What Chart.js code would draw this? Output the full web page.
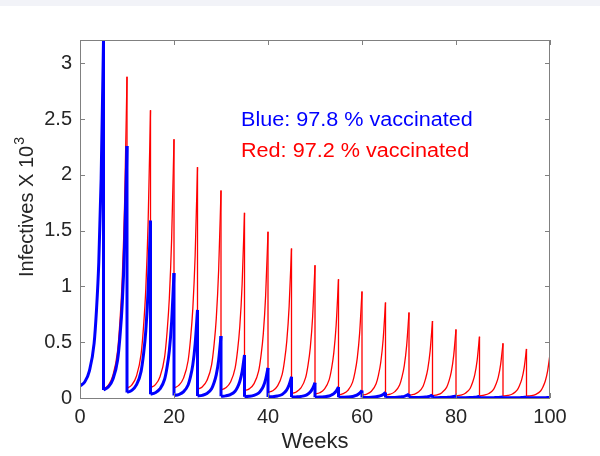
<!DOCTYPE html>
<html>
<head>
<meta charset="utf-8">
<script src="https://cdn.jsdelivr.net/npm/chart.js@4/dist/chart.umd.min.js"></script>
<style>
  html, body { margin: 0; padding: 0; background: #fff; }
  #wrap { width: 600px; height: 456px; }
</style>
</head>
<body>
<div id="wrap"><canvas id="infChart" width="600" height="456"></canvas></div>
<script>
// Data (infectives in thousands)
// every period is 5 weeks long; values sit at these weeks inside a period
const phaseWeeks = [0, 1, 2, 3, 3.5, 4, 4.5, 5];
const periodStart = [0, 5, 10, 15, 20, 25, 30, 35, 40, 45, 50, 55, 60, 65, 70, 75, 80, 85, 90, 95];

// Red: 97.2 % vaccinated
const redRise = [
  [0.108, 0.144, 0.243, 0.490, 0.784, 1.219, 1.969, 3.21],
  [0.080, 0.113, 0.202, 0.424, 0.690, 1.082, 1.760, 2.88],
  [0.087, 0.116, 0.195, 0.394, 0.630, 0.980, 1.583, 2.58],
  [0.092, 0.118, 0.189, 0.366, 0.578, 0.890, 1.429, 2.32],
  [0.090, 0.113, 0.176, 0.334, 0.522, 0.799, 1.278, 2.07],
  [0.078, 0.099, 0.156, 0.297, 0.467, 0.716, 1.147, 1.86],
  [0.072, 0.091, 0.141, 0.267, 0.418, 0.641, 1.025, 1.66],
  [0.065, 0.082, 0.127, 0.240, 0.376, 0.575, 0.920, 1.49],
  [0.050, 0.065, 0.106, 0.209, 0.331, 0.512, 0.824, 1.34],
  [0.040, 0.054, 0.090, 0.182, 0.291, 0.452, 0.730, 1.19],
  [0.035, 0.047, 0.080, 0.162, 0.260, 0.404, 0.653, 1.065],
  [0.028, 0.039, 0.068, 0.142, 0.230, 0.360, 0.584, 0.955],
  [0.025, 0.035, 0.061, 0.127, 0.206, 0.323, 0.524, 0.857],
  [0.025, 0.034, 0.057, 0.116, 0.187, 0.291, 0.470, 0.767],
  [0.024, 0.032, 0.053, 0.106, 0.169, 0.262, 0.424, 0.690],
  [0.022, 0.029, 0.048, 0.095, 0.151, 0.234, 0.378, 0.615],
  [0.020, 0.026, 0.043, 0.085, 0.136, 0.210, 0.338, 0.550],
  [0.020, 0.026, 0.040, 0.078, 0.123, 0.188, 0.302, 0.490],
  [0.018, 0.023, 0.036, 0.070, 0.110, 0.169, 0.271, 0.440],
  [0.017, 0.021, 0.033, 0.063, 0.099, 0.152, 0.243, 0.394]
];
const redEnd = 0.015;

// Blue: 97.8 % vaccinated
const blueRise = [
  [0.108, 0.144, 0.243, 0.490, 0.784, 1.219, 1.969, 3.21],
  [0.072, 0.098, 0.167, 0.341, 0.549, 0.855, 1.385, 2.26],
  [0.050, 0.068, 0.117, 0.239, 0.386, 0.601, 0.974, 1.59],
  [0.034, 0.047, 0.081, 0.168, 0.271, 0.423, 0.686, 1.12],
  [0.022, 0.031, 0.055, 0.117, 0.189, 0.297, 0.483, 0.79],
  [0.018, 0.024, 0.041, 0.084, 0.135, 0.210, 0.340, 0.555],
  [0.015, 0.019, 0.031, 0.061, 0.096, 0.148, 0.237, 0.385],
  [0.012, 0.015, 0.023, 0.044, 0.068, 0.104, 0.167, 0.27],
  [0.010, 0.012, 0.018, 0.032, 0.049, 0.074, 0.118, 0.19],
  [0.008, 0.010, 0.014, 0.024, 0.036, 0.054, 0.085, 0.137],
  [0.007, 0.008, 0.011, 0.018, 0.027, 0.040, 0.062, 0.098],
  [0.006, 0.007, 0.009, 0.014, 0.020, 0.028, 0.043, 0.068],
  [0.005, 0.005, 0.007, 0.011, 0.015, 0.021, 0.032, 0.050],
  [0.004, 0.004, 0.005, 0.008, 0.011, 0.015, 0.023, 0.036],
  [0.004, 0.004, 0.005, 0.007, 0.009, 0.012, 0.017, 0.026],
  [0.003, 0.003, 0.004, 0.005, 0.007, 0.009, 0.013, 0.019],
  [0.003, 0.003, 0.003, 0.004, 0.005, 0.007, 0.010, 0.014],
  [0.002, 0.002, 0.002, 0.003, 0.004, 0.005, 0.007, 0.010],
  [0.002, 0.002, 0.002, 0.003, 0.003, 0.004, 0.006, 0.008],
  [0.002, 0.002, 0.002, 0.002, 0.003, 0.003, 0.004, 0.006]
];
const blueEnd = 0.002;

const xTicks = [0, 20, 40, 60, 80, 100];
const yMax = 3.21;
const textColor = '#262626';
const fontFamily = '"Liberation Sans", Arial, Helvetica, sans-serif';

// growth parts of each period, split by a gap so each one is its own curve
function risePoints(rows) {
  const pts = [];
  rows.forEach((row, k) => {
    row.forEach((v, j) => pts.push({ x: periodStart[k] + phaseWeeks[j], y: v }));
    pts.push({ x: periodStart[k] + 5, y: null });
  });
  return pts;
}

// the sudden drops at the end of every period
function dropPoints(rows, endValue) {
  const pts = [];
  rows.forEach((row, k) => {
    const x = periodStart[k] + 5;
    const after = k + 1 < rows.length ? rows[k + 1][0] : endValue;
    pts.push({ x: x, y: row[row.length - 1] });
    pts.push({ x: x, y: after });
    pts.push({ x: x, y: null });
  });
  return pts;
}

// frame, inward ticks, labels and notes
const decorPlugin = {
  id: 'decor',
  beforeDraw(chart) {
    const ctx = chart.ctx;
    ctx.save();
    ctx.fillStyle = '#f2f3f8';
    ctx.fillRect(0, 0, chart.width, 6);
    ctx.restore();
  },
  afterDatasetsDraw(chart) {
    const { ctx, chartArea: a, scales } = chart;
    ctx.save();
    ctx.strokeStyle = '#808080';
    ctx.lineWidth = 1;
    ctx.strokeRect(a.left + 0.5, a.top + 0.5, a.right - a.left - 1, a.bottom - a.top);
    ctx.beginPath();
    scales.x.ticks.forEach(t => {
      const px = Math.round(scales.x.getPixelForValue(t.value)) + 0.5;
      ctx.moveTo(px, a.bottom); ctx.lineTo(px, a.bottom - 5);
      ctx.moveTo(px, a.top); ctx.lineTo(px, a.top + 5);
    });
    scales.y.ticks.forEach(t => {
      const py = Math.round(scales.y.getPixelForValue(t.value)) + 0.5;
      ctx.moveTo(a.left, py); ctx.lineTo(a.left + 5, py);
      ctx.moveTo(a.right, py); ctx.lineTo(a.right - 5, py);
    });
    ctx.stroke();
    ctx.restore();
  },
  afterDraw(chart) {
    const ctx = chart.ctx;
    ctx.save();
    // y axis title with superscript
    ctx.fillStyle = textColor;
    ctx.translate(33, 277);
    ctx.rotate(-Math.PI / 2);
    ctx.textBaseline = 'alphabetic';
    ctx.textAlign = 'left';
    ctx.font = '20px ' + fontFamily;
    const main = 'Infectives X 10';
    ctx.fillText(main, 0, 0);
    const w = ctx.measureText(main).width;
    ctx.font = '14px ' + fontFamily;
    ctx.fillText('3', w + 1, -9);
    ctx.restore();

    // notes
    ctx.save();
    ctx.font = '20px ' + fontFamily;
    ctx.textBaseline = 'alphabetic';
    ctx.textAlign = 'left';
    ctx.translate(241, 0);
    ctx.scale(1.08, 1);
    ctx.fillStyle = '#0000ff';
    ctx.fillText('Blue: 97.8 % vaccinated', 0, 126);
    ctx.fillStyle = '#ff0000';
    ctx.fillText('Red: 97.2 % vaccinated', 0, 157);
    ctx.restore();
  }
};

const ctx = document.getElementById('infChart').getContext('2d');
const infChart = new Chart(ctx, {
  type: 'line',
  data: {
    datasets: [
      {
        label: 'Blue drops',
        data: dropPoints(blueRise, blueEnd),
        borderColor: '#0000ff',
        borderWidth: 3,
        pointRadius: 0,
        tension: 0
      },
      {
        label: 'Blue',
        data: risePoints(blueRise),
        borderColor: '#0000ff',
        borderWidth: 3,
        pointRadius: 0,
        cubicInterpolationMode: 'monotone'
      },
      {
        label: 'Red drops',
        data: dropPoints(redRise, redEnd),
        borderColor: '#ff0000',
        borderWidth: 1.3,
        pointRadius: 0,
        tension: 0
      },
      {
        label: 'Red',
        data: risePoints(redRise),
        borderColor: '#ff0000',
        borderWidth: 1.3,
        pointRadius: 0,
        cubicInterpolationMode: 'monotone'
      }
    ]
  },
  options: {
    responsive: false,
    animation: false,
    events: [],
    layout: { padding: { left: 0, top: 40, right: 50, bottom: 0 } },
    plugins: {
      legend: { display: false },
      tooltip: { enabled: false }
    },
    scales: {
      x: {
        type: 'linear',
        min: 0,
        max: 100,
        afterFit: s => { s.height = 58; },
        afterBuildTicks: s => { s.ticks = xTicks.map(v => ({ value: v })); },
        grid: { display: false, drawTicks: false },
        border: { display: false },
        ticks: {
          padding: 7,
          color: textColor,
          font: { family: fontFamily, size: 20 },
          maxRotation: 0
        },
        title: {
          display: true,
          text: 'Weeks',
          color: textColor,
          font: { family: fontFamily, size: 22 },
          padding: { top: 0, bottom: 1 }
        }
      },
      y: {
        type: 'linear',
        min: 0,
        max: yMax,
        afterFit: s => { s.width = 80; },
        grid: { display: false, drawTicks: false },
        border: { display: false },
        ticks: {
          stepSize: 0.5,
          includeBounds: false,
          padding: 8,
          color: textColor,
          font: { family: fontFamily, size: 20 },
          callback: v => String(Number(v.toFixed(2)))
        }
      }
    }
  },
  plugins: [decorPlugin]
});
</script>
</body>
</html>
